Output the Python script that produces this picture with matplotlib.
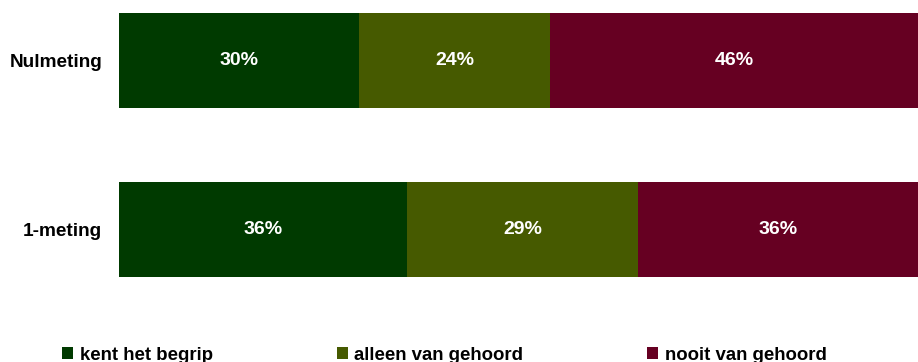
import numpy as np
import matplotlib.pyplot as plt

plt.rcParams['font.family'] = ['Liberation Sans', 'DejaVu Sans']
plt.rcParams['font.weight'] = 'bold'

metingen = ['Nulmeting', '1-meting']
reeksen = ['kent het begrip', 'alleen van gehoord', 'nooit van gehoord']
waarden = {
    'kent het begrip': [30, 36],
    'alleen van gehoord': [24, 29],
    'nooit van gehoord': [46, 36],
}
kleuren = ['#003a00', '#465a00', '#660022']

fig = plt.figure(figsize=(9.18, 3.62), dpi=100)
bar_h = 0.565
ax = fig.add_axes([119 / 918, 85 / 362, 1 - 119 / 918, 264 / 362])

y = np.arange(len(metingen))
links = np.zeros(len(metingen))
for naam, kleur in zip(reeksen, kleuren):
    v = np.array(waarden[naam], dtype=float)
    ax.barh(y, v, left=links, height=bar_h, color=kleur, label=naam, linewidth=0)
    for yi, l, w in zip(y, links, v):
        # center label in the visible part of the segment
        mid = (l + min(l + w, 100)) / 2
        ax.text(mid, yi, f'{int(w)}%', ha='center', va='center',
                color='white', fontsize=14, fontweight='bold')
    links += v

ax.set_xlim(0, 100)
ax.set_ylim(len(metingen) - 1 + bar_h / 2, -bar_h / 2)
ax.set_yticks(y)
ax.set_yticklabels(metingen, fontsize=13.7, fontweight='bold')
ax.tick_params(axis='y', length=0, pad=12)
ax.set_xticks([])
for s in ax.spines.values():
    s.set_visible(False)

ax.legend(loc='lower left', bbox_to_anchor=(62 / 918, -1.5 / 362),
          bbox_transform=fig.transFigure, ncol=3, frameon=False,
          borderpad=0, borderaxespad=0,
          handlelength=0.6, handleheight=0.6, handletextpad=0.35,
          columnspacing=6.65, prop={'weight': 'bold', 'size': 13.4})

fig.savefig('out.png', dpi=100)
